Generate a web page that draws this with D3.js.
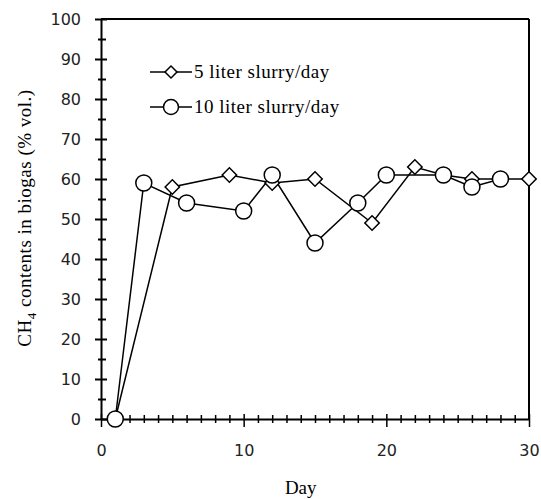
<!DOCTYPE html>
<html>
<head>
<meta charset="utf-8">
<script src="https://cdn.jsdelivr.net/npm/d3@7"></script>
<style>
  body { margin: 0; background: #fff; }
  svg { display: block; }
</style>
</head>
<body>
<div id="chart"></div>
<script>
// ----------------------
// Data
// ----------------------
const days5 = [1, 5, 9, 12, 15, 19, 22, 24, 26, 28, 30];
const ch4_5 = [0, 58, 61, 59, 60, 49, 63, 61, 60, 60, 60];
const days10 = [1, 3, 6, 10, 12, 15, 18, 20, 24, 26, 28];
const ch4_10 = [0, 59, 54, 52, 61, 44, 54, 61, 61, 58, 60];
const seriesNames = ["5 liter slurry/day", "10 liter slurry/day"];
const xTicks = [0, 10, 20, 30];
const yTicks = [0, 10, 20, 30, 40, 50, 60, 70, 80, 90, 100];

// Dimensions
const width = 541, height = 499;
const margin = { top: 19, right: 12, bottom: 80, left: 101 };
const w = width - margin.left - margin.right;
const h = height - margin.top - margin.bottom;

const svg = d3.select("#chart").append("svg")
    .attr("width", width)
    .attr("height", height);

const g = svg.append("g")
    .attr("transform", `translate(${margin.left},${margin.top})`);

const x = d3.scaleLinear().domain([0, 30]).range([0, w]);
const y = d3.scaleLinear().domain([0, 100]).range([h, 0]);

// Frame (top + right)
g.append("line").attr("x1", 0).attr("x2", w).attr("y1", 0).attr("y2", 0)
    .attr("stroke", "#000").attr("stroke-width", 2);
g.append("line").attr("x1", w).attr("x2", w).attr("y1", 0).attr("y2", h)
    .attr("stroke", "#000").attr("stroke-width", 2);

// Y axis - minor ticks
const yMinor = g.append("g")
    .call(d3.axisLeft(y).tickValues(d3.range(5, 100, 10)).tickFormat("").tickSizeOuter(0));
yMinor.select(".domain").remove();
yMinor.selectAll(".tick line").attr("x1", -3).attr("x2", 5).attr("stroke-width", 2);

// Y axis - major
const yAxis = g.append("g")
    .call(d3.axisLeft(y).tickValues(yTicks).tickSizeOuter(0));
yAxis.select(".domain").attr("stroke-width", 2);
yAxis.selectAll(".tick line").attr("x1", -6).attr("x2", 6).attr("stroke-width", 2);
yAxis.selectAll(".tick text")
    .attr("x", -20)
    .attr("font-family", "DejaVu Sans")
    .attr("font-size", 16)
    .attr("fill", "#222");

// X axis - minor ticks
const xMinor = g.append("g")
    .attr("transform", `translate(0,${h})`)
    .call(d3.axisBottom(x).tickValues(d3.range(1, 30).filter(d => d % 10 !== 0)).tickFormat("").tickSizeOuter(0));
xMinor.select(".domain").remove();
xMinor.selectAll(".tick line").attr("y1", -4).attr("y2", 4).attr("stroke-width", 1.5);

// X axis - major
const xAxis = g.append("g")
    .attr("transform", `translate(0,${h})`)
    .call(d3.axisBottom(x).tickValues(xTicks).tickSizeOuter(0));
xAxis.select(".domain").attr("stroke-width", 2);
xAxis.selectAll(".tick line").attr("y1", -5).attr("y2", 8).attr("stroke-width", 1.5);
xAxis.selectAll(".tick text")
    .attr("y", 26)
    .attr("font-family", "DejaVu Sans")
    .attr("font-size", 16)
    .attr("fill", "#222");

// Axis titles
svg.append("text")
    .attr("x", margin.left + x(14))
    .attr("y", 494)
    .attr("text-anchor", "middle")
    .attr("font-family", "Liberation Serif")
    .attr("font-size", 19)
    .text("Day");

const yTitle = svg.append("text")
    .attr("transform", "translate(31,218) rotate(-90)")
    .attr("text-anchor", "middle")
    .attr("font-family", "Liberation Serif")
    .attr("font-size", 19)
    .attr("letter-spacing", 0.5);
yTitle.append("tspan").text("CH");
yTitle.append("tspan").attr("font-size", 13).attr("dy", 5).text("4");
yTitle.append("tspan").attr("dy", -5).text(" contents  in biogas (% vol.)");

// Lines
const line = d3.line().x(d => x(d[0])).y(d => y(d[1]));
const s5 = days5.map((d, i) => [d, ch4_5[i]]);
const s10 = days10.map((d, i) => [d, ch4_10[i]]);

g.append("path").datum(s5).attr("d", line)
    .attr("fill", "none").attr("stroke", "#000").attr("stroke-width", 1.5);
g.append("path").datum(s10).attr("d", line)
    .attr("fill", "none").attr("stroke", "#000").attr("stroke-width", 1.5);

// Markers
const diamond = d3.symbol().type(d3.symbolSquare).size(104);
g.selectAll(".dia").data(s5).enter().append("path")
    .attr("d", diamond)
    .attr("transform", d => `translate(${x(d[0])},${y(d[1])}) rotate(45)`)
    .attr("fill", "#fff").attr("stroke", "#000").attr("stroke-width", 1.5);

g.selectAll(".circ").data(s10).enter().append("circle")
    .attr("cx", d => x(d[0])).attr("cy", d => y(d[1])).attr("r", 8)
    .attr("fill", "#fff").attr("stroke", "#000").attr("stroke-width", 1.5);

// Legend
const legend = svg.append("g");
const rows = [72, 107];
rows.forEach((ry, i) => {
    legend.append("line").attr("x1", 150).attr("x2", 192).attr("y1", ry).attr("y2", ry)
        .attr("stroke", "#000").attr("stroke-width", 1.5);
    if (i === 0) {
        legend.append("path").attr("d", d3.symbol().type(d3.symbolSquare).size(72))
            .attr("transform", `translate(171,${ry}) rotate(45)`)
            .attr("fill", "#fff").attr("stroke", "#000").attr("stroke-width", 1.5);
    } else {
        legend.append("circle").attr("cx", 171).attr("cy", ry).attr("r", 7.5)
            .attr("fill", "#fff").attr("stroke", "#000").attr("stroke-width", 1.5);
    }
    legend.append("text")
        .attr("x", 194).attr("y", ry + 6)
        .attr("font-family", "Liberation Serif")
        .attr("font-size", 19)
        .attr("letter-spacing", 0.5)
        .text(seriesNames[i]);
});
</script>
</body>
</html>
